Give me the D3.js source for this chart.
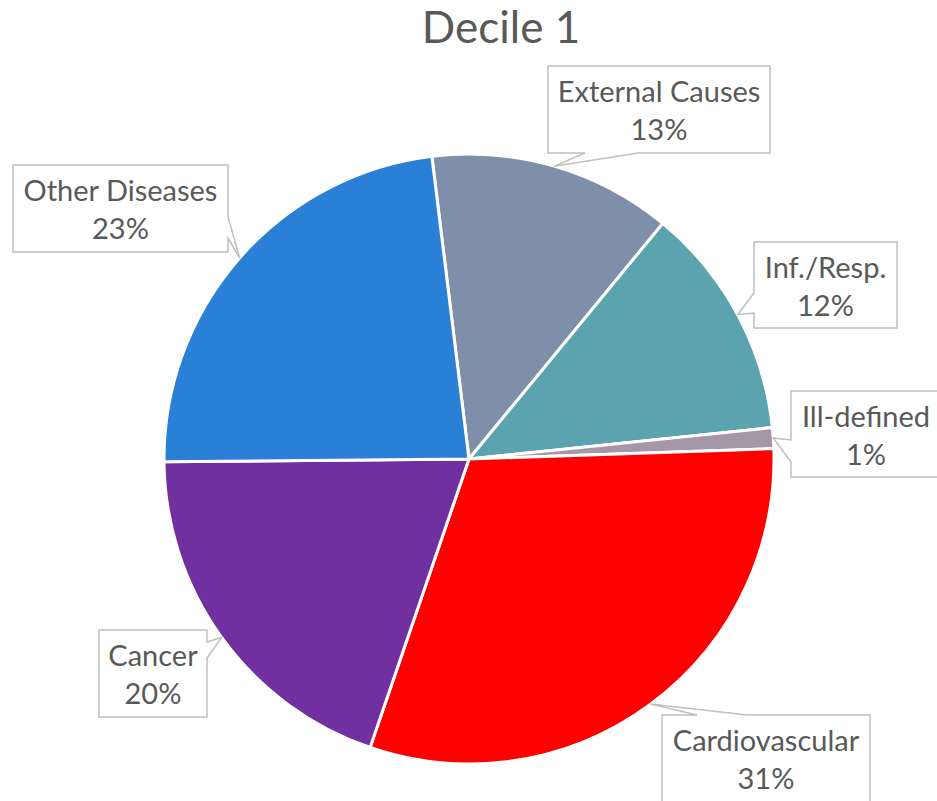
<!DOCTYPE html>
<html>
<head>
<meta charset="utf-8">
<script src="https://cdn.jsdelivr.net/npm/d3@7"></script>
<style>
  html, body { margin: 0; padding: 0; background: #ffffff; }
  svg { display: block; }
  text { font-family: Lato, "Open Sans", sans-serif; fill: #595959; }
</style>
</head>
<body>
<svg id="chart" width="937" height="801"></svg>
<script>
// ---- data ----
const title = "Decile 1";
const categories = ["External Causes", "Inf./Resp.", "Ill-defined", "Cardiovascular", "Cancer", "Other Diseases"];
const values = [12.9, 12.4, 1.1, 30.8, 19.6, 23.2];
const colors = ["#7f8ea9", "#5ba3af", "#a597a8", "#ff0000", "#7030a0", "#2a7fd7"];

// ---- layout (label callout boxes) ----
const boxes = [
  { x: 548, y: 66,  w: 222, h: 87, side: "bottom", base: [585, 638] },
  { x: 754, y: 242, w: 143, h: 86, side: "left",   base: [293, 313] },
  { x: 791, y: 391, w: 150, h: 86, side: "left",   base: [440, 462] },
  { x: 662, y: 715, w: 208, h: 88, side: "top",    base: [697, 747] },
  { x: 99,  y: 630, w: 108, h: 87, side: "right",  base: [642, 658] },
  { x: 13,  y: 165, w: 215, h: 87, side: "right",  base: [217, 238] }
];

const svg = d3.select("#chart");
const cx = 469, cy = 459, R = 305;
const deg = Math.PI / 180;

svg.append("text")
  .attr("x", 501).attr("y", 43)
  .attr("text-anchor", "middle")
  .style("font-size", "44px")
  .text(title);

const data = categories.map((c, i) => ({ cat: c, value: values[i], color: colors[i], box: boxes[i] }));
const total = d3.sum(values);
const pct = d3.format(".0%");

const pie = d3.pie().sort(null).value(d => d.value)
  .startAngle(-7 * deg).endAngle(353 * deg);
const arcs = pie(data);
const arc = d3.arc().innerRadius(0).outerRadius(R);

const g = svg.append("g").attr("transform", `translate(${cx},${cy})`);
g.selectAll("path.slice").data(arcs).join("path")
  .attr("class", "slice")
  .attr("d", arc)
  .attr("fill", d => d.data.color)
  .attr("stroke", "#ffffff")
  .attr("stroke-width", 3)
  .attr("stroke-linejoin", "round");

function calloutPath(b, tip) {
  const x0 = b.x, y0 = b.y, x1 = b.x + b.w, y1 = b.y + b.h;
  const p = [];
  p.push([x0, y0]);
  if (b.side === "top") { p.push([b.base[0], y0], tip, [b.base[1], y0]); }
  p.push([x1, y0]);
  if (b.side === "right") { p.push([x1, b.base[0]], tip, [x1, b.base[1]]); }
  p.push([x1, y1]);
  if (b.side === "bottom") { p.push([b.base[1], y1], tip, [b.base[0], y1]); }
  p.push([x0, y1]);
  if (b.side === "left") { p.push([x0, b.base[1]], tip, [x0, b.base[0]]); }
  return "M" + p.map(q => q.join(",")).join("L") + "Z";
}

const labels = svg.append("g");
arcs.forEach(a => {
  const b = a.data.box;
  const mid = (a.startAngle + a.endAngle) / 2;
  const tip = [cx + R * Math.sin(mid), cy - R * Math.cos(mid)];
  labels.append("path")
    .attr("d", calloutPath(b, tip))
    .attr("fill", "#ffffff")
    .attr("stroke", "#bfbfbf")
    .attr("stroke-width", 1.5);
  const tx = b.x + b.w / 2;
  labels.append("text")
    .attr("x", tx).attr("y", b.y + 36)
    .attr("text-anchor", "middle")
    .style("font-size", "29px")
    .text(a.data.cat);
  labels.append("text")
    .attr("x", tx).attr("y", b.y + 74)
    .attr("text-anchor", "middle")
    .style("font-size", "29px")
    .text(pct(a.data.value / total));
});
</script>
</body>
</html>
